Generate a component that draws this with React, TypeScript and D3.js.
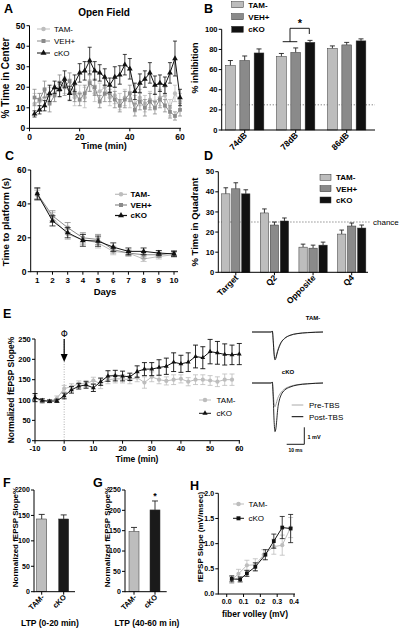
import React from "react";
import * as d3 from "d3";

const FONT = "'Liberation Sans', Arial, Helvetica, sans-serif";
const C_TAM = "#bdbdbd";
const C_VEH = "#8a8a8a";
const C_CKO = "#111111";

// ---------- Panel A: Open field ----------
const aTime = [2, 4, 6, 8, 10, 12, 14, 16, 18, 20, 22, 24, 26, 28, 30, 32, 34, 36, 38, 40, 42, 44, 46, 48, 50, 52, 54, 56, 58, 60];
const aTam = [12, 13, 15, 16, 17, 19, 21, 19, 15, 17, 15, 23, 17, 18, 20, 15, 16, 13, 15, 14, 12, 15, 12, 14, 13, 15, 16, 10, 17, 13];
const aTamErr = [5, 4, 4, 4, 4, 4, 4, 5, 4, 4, 5, 5, 4, 4, 4, 4, 4, 4, 4, 4, 4, 4, 4, 4, 4, 4, 4, 4, 4, 4];
const aVeh = [15, 14, 19, 12, 16, 22, 20, 23, 17, 14, 17, 22, 20, 13, 17, 17, 14, 11, 14, 17, 9, 13, 10, 13, 10, 14, 11, 8, 6, 9];
const aVehErr = [4, 3, 4, 4, 3, 4, 4, 4, 4, 3, 4, 4, 4, 3, 4, 4, 4, 3, 4, 4, 3, 4, 4, 4, 3, 4, 3, 3, 2, 3];
const aCko = [7, 9, 11, 17, 20, 19, 24, 17, 22, 27, 28, 33, 28, 27, 25, 21, 25, 26, 31, 29, 18, 22, 24, 27, 21, 22, 21, 27, 34, 15];
const aCkoErr = [1.5, 2, 2.5, 4, 3, 3.5, 4, 3.5, 4, 4.5, 4.5, 6.5, 4.5, 4, 4, 3.5, 5, 4.5, 5, 5, 4, 4.5, 4, 5, 4.5, 4, 4, 5, 8.5, 4];
const aYTicks = [0, 10, 20, 30, 40, 50];
const aXTicks = [0, 20, 40, 60];

// ---------- Panel B: prepulse inhibition ----------
const bGroups = ["74dB", "78dB", "86dB"];
const bTam = [64, 73, 81];
const bTamErr = [5, 3, 2.5];
const bVeh = [69, 77, 84.5];
const bVehErr = [4.5, 4.5, 2.5];
const bCko = [76.5, 87, 88.5];
const bCkoErr = [4, 2, 2];
const bYTicks = [0, 20, 40, 60, 80, 100];

// ---------- Panel C: water maze acquisition ----------
const cDays = [1, 2, 3, 4, 5, 6, 7, 8, 9, 10];
const cTam = [45, 32, 22, 19, 17, 12, 11, 7.5, 9, 10];
const cTamErr = [3, 3, 3, 3, 3, 2, 2, 1.5, 1.5, 1.5];
const cVeh = [46, 33, 26, 20, 19, 13, 11, 10, 10, 11];
const cVehErr = [3, 3, 3, 3, 3, 2, 1.5, 2, 1.5, 1.5];
const cCko = [46, 30, 23, 18.5, 18, 14.5, 12, 12, 11, 10.5];
const cCkoErr = [3.5, 3, 3, 3.5, 3, 2.5, 2, 2, 1.5, 1.5];
const cYTicks = [0, 20, 40, 60];

// ---------- Panel D: probe trial ----------
const dGroups = ["Target", "Q2", "Opposite", "Q4"];
const dTam = [39, 29.5, 12.5, 19];
const dTamErr = [3, 2, 1.5, 2];
const dVeh = [41.5, 23.5, 12, 23];
const dVehErr = [3, 1.5, 1.5, 1.5];
const dCko = [39, 25.5, 13.5, 22];
const dCkoErr = [2, 1.5, 1.5, 1.5];
const dYTicks = [0, 10, 20, 30, 40, 50];

// ---------- Panel E: LTP time course ----------
const eTimeCko = [-10, -7.5, -5, -2.5, 0, 2.5, 5, 7.5, 10, 12.5, 15, 17.5, 20, 22.5, 25, 27.5, 30, 32.5, 35, 37.5, 40, 42.5, 45, 47.5, 50, 52.5, 55, 57.5, 60];
const eCko = [106, 99, 97, 98, 110, 125, 134, 137, 130, 145, 159, 160, 159, 157, 170, 176, 176, 180, 183, 193, 189, 193, 207, 204, 219, 216, 212, 211, 213];
const eCkoErr = [10, 4, 3, 4, 7, 8, 7, 8, 9, 9, 13, 13, 12, 9, 14, 16, 16, 19, 20, 23, 21, 23, 28, 27, 30, 28, 26, 24, 26];
const eTimeTam = [-10, -7.5, -5, -2.5, 0, 2.5, 5, 7.5, 10, 12.5, 15, 17.5, 20, 22.5, 25, 27.5, 30, 32.5, 35, 37.5, 40, 42.5, 45, 47.5, 50, 52.5, 55, 57.5];
const eTam = [104, 96, 97, 104, 128, 133, 140, 140, 148, 140, 150, 152, 152, 150, 155, 143, 157, 150, 147, 150, 152, 145, 150, 150, 148, 145, 150, 150];
const eTamErr = [8, 4, 4, 6, 8, 7, 7, 8, 8, 12, 10, 10, 10, 10, 10, 14, 12, 10, 10, 12, 10, 10, 12, 12, 12, 12, 14, 14];
const eXTicks = [-10, 0, 10, 20, 30, 40, 50, 60];
const eYTicks = [0, 50, 100, 150, 200, 250];

// example fEPSP traces (ms, mV)
const trT = [-11.5, -0.5, 0, 0.5, 1, 1.5, 2, 2.5, 3, 4, 5, 7, 10, 14, 20, 28.7];
const trTamPost = [0, 0, 0.06, -0.5, -1.3, -1.64, -1.55, -1.35, -1.15, -0.85, -0.62, -0.38, -0.2, -0.1, -0.04, 0];
const trTamPre = [0, 0, 0.06, -0.45, -1.2, -1.55, -1.5, -1.3, -1.1, -0.8, -0.6, -0.36, -0.19, -0.09, -0.03, 0];
const trCkoPost = [0, 0, 0.06, -0.8, -2.2, -2.86, -2.7, -2.2, -1.6, -1.0, -0.7, -0.42, -0.24, -0.12, -0.05, 0];
const trCkoPre = [0, 0, 0.06, -0.6, -1.2, -1.4, -1.28, -1.1, -0.92, -0.7, -0.55, -0.35, -0.2, -0.1, -0.04, 0];

// ---------- Panel F / G: LTP bars ----------
const fgGroups = ["TAM-", "cKO"];
const fVals = [143, 143];
const fErr = [9, 8];
const gVals = [148, 201];
const gErr = [10, 22];
const fYTicks = [0, 50, 100, 150, 200];
const gYTicks = [0, 50, 100, 150, 200, 250];

// ---------- Panel H: input-output ----------
const hTamX = [0.03, 0.07, 0.12, 0.17, 0.22, 0.28, 0.33, 0.38];
const hTamY = [0.28, 0.4, 0.57, 0.58, 0.78, 0.94, 0.97, 1.32];
const hTamErr = [0.07, 0.09, 0.1, 0.12, 0.1, 0.15, 0.2, 0.2];
const hCkoX = [0.03, 0.08, 0.12, 0.17, 0.23, 0.28, 0.33, 0.38];
const hCkoY = [0.3, 0.29, 0.41, 0.54, 0.78, 1.05, 1.32, 1.3];
const hCkoErr = [0.06, 0.05, 0.06, 0.08, 0.1, 0.14, 0.22, 0.28];
const hXTicks = [0, 0.1, 0.2, 0.3, 0.4];
const hYTicks = [0, 0.5, 1, 1.5, 2];

type Sc = d3.ScaleLinear<number, number>;

function YAxis({ scale, x, ticks, fmt, fs = 8, tl = 3 }: any) {
  const [y0, y1] = scale.range();
  return (
    <g>
      <line x1={x} x2={x} y1={y0 + 0.5} y2={y1} stroke="#000" strokeWidth={1} />
      {ticks.map((t: number) => (
        <g key={t}>
          <line x1={x - tl} x2={x} y1={scale(t)} y2={scale(t)} stroke="#000" strokeWidth={1} />
          <text x={x - tl - 1.2} y={scale(t)} dy="0.35em" textAnchor="end" fontSize={fs} fontWeight="bold">
            {fmt ? fmt(t) : t}
          </text>
        </g>
      ))}
    </g>
  );
}

function XAxis({ scale, y, ticks, from, to, fmt, fs = 8, tl = 3, labels = true }: any) {
  return (
    <g>
      <line x1={from} x2={to} y1={y} y2={y} stroke="#000" strokeWidth={1} />
      {ticks.map((t: any) => (
        <g key={t}>
          <line x1={scale(t)} x2={scale(t)} y1={y} y2={y + tl} stroke="#000" strokeWidth={1} />
          {labels && (
            <text x={scale(t)} y={y + tl + fs} textAnchor="middle" fontSize={fs} fontWeight="bold">
              {fmt ? fmt(t) : t}
            </text>
          )}
        </g>
      ))}
    </g>
  );
}

function Series({ xs, ys, errs, xS, yS, color, marker, size = 14, cap = 2, lw = 1, errColor, ew = 0.8 }: any) {
  const line = d3
    .line<number>()
    .x((_, i) => xS(xs[i]))
    .y((d) => yS(d));
  const sym = d3.symbol().type(marker).size(size)() as string;
  return (
    <g>
      {errs &&
        ys.map((v: number, i: number) => {
          const cx = xS(xs[i]);
          const t = yS(v + errs[i]);
          const b = yS(v - errs[i]);
          return (
            <g key={"e" + i} stroke={errColor ?? color} strokeWidth={ew}>
              <line x1={cx} x2={cx} y1={t} y2={b} />
              <line x1={cx - cap} x2={cx + cap} y1={t} y2={t} />
              <line x1={cx - cap} x2={cx + cap} y1={b} y2={b} />
            </g>
          );
        })}
      <path d={line(ys) as string} fill="none" stroke={color} strokeWidth={lw} />
      {ys.map((v: number, i: number) => (
        <path key={"m" + i} d={sym} transform={`translate(${xS(xs[i])},${yS(v)})`} fill={color} />
      ))}
    </g>
  );
}

function Bars({ groups, seriesVals, seriesErrs, colors, x0, offsets, width, yS, cap = 2.5 }: any) {
  return (
    <g>
      {seriesVals.map((vals: number[], s: number) =>
        vals.map((v: number, i: number) => {
          const cx = x0(groups[i]) + offsets[s];
          const top = yS(v);
          const et = yS(v + seriesErrs[s][i]);
          return (
            <g key={s + "-" + i}>
              <line x1={cx} x2={cx} y1={top} y2={et} stroke="#222" strokeWidth={0.9} />
              <line x1={cx - cap} x2={cx + cap} y1={et} y2={et} stroke="#222" strokeWidth={0.9} />
              <rect
                x={cx - width / 2}
                y={top}
                width={width}
                height={yS(0) - top}
                fill={colors[s]}
                stroke="#333"
                strokeWidth={0.5}
              />
            </g>
          );
        })
      )}
    </g>
  );
}

function RotLabels({ groups, x0, y, fs = 8, dx = 3 }: any) {
  return (
    <g>
      {groups.map((g: string) => (
        <text
          key={g}
          transform={`translate(${x0(g) + dx},${y}) rotate(-45)`}
          textAnchor="end"
          fontSize={fs}
          fontWeight="bold"
        >
          {g}
        </text>
      ))}
    </g>
  );
}

function YLabel({ x, y, text, fs = 9 }: any) {
  return (
    <text transform={`translate(${x},${y}) rotate(-90)`} textAnchor="middle" fontSize={fs} fontWeight="bold">
      {text}
    </text>
  );
}

function PanelLetter({ x, y, t }: any) {
  return (
    <text x={x} y={y} fontSize={12.5} fontWeight="bold">
      {t}
    </text>
  );
}

function PanelA() {
  const x: Sc = d3.scaleLinear([0, 60], [29.5, 180]);
  const y: Sc = d3.scaleLinear([0, 50], [128.3, 25.7]);
  const leg = [
    { t: "TAM-", c: C_TAM, m: d3.symbolCircle, yy: 29 },
    { t: "VEH+", c: C_VEH, m: d3.symbolSquare, yy: 41 },
    { t: "cKO", c: C_CKO, m: d3.symbolTriangle, yy: 53 },
  ];
  return (
    <g>
      <PanelLetter x={4} y={13} t="A" />
      <text x={104} y={16} textAnchor="middle" fontSize={10} fontWeight="bold">
        Open Field
      </text>
      <Series xs={aTime} ys={aTam} errs={aTamErr} xS={x} yS={y} color={C_TAM} marker={d3.symbolCircle} size={14} />
      <Series xs={aTime} ys={aVeh} errs={aVehErr} xS={x} yS={y} color={C_VEH} marker={d3.symbolSquare} size={14} />
      <Series xs={aTime} ys={aCko} errs={aCkoErr} xS={x} yS={y} color={C_CKO} marker={d3.symbolTriangle} size={14} />
      <YAxis scale={y} x={29.5} ticks={aYTicks} fs={8.5} />
      <XAxis scale={x} y={128.3} ticks={aXTicks} from={29.5} to={181} fs={8.5} />
      <text x={104} y={149} textAnchor="middle" fontSize={9} fontWeight="bold">
        Time (min)
      </text>
      <YLabel x={9} y={78} text="% Time in Center" fs={10} />
      {leg.map((l) => (
        <g key={l.t}>
          <line x1={37} x2={50} y1={l.yy} y2={l.yy} stroke={l.c} strokeWidth={1} />
          <path d={d3.symbol().type(l.m).size(16)() as string} transform={`translate(43.5,${l.yy})`} fill={l.c} />
          <text x={54} y={l.yy} dy="0.35em" fontSize={8}>
            {l.t}
          </text>
        </g>
      ))}
    </g>
  );
}

function PanelB() {
  const y: Sc = d3.scaleLinear([0, 100], [130, 29.3]);
  const x0 = d3.scalePoint(bGroups, [244.7, 346.7]);
  const off = [-14.3, 0, 14.3];
  const leg = [
    { t: "TAM-", c: C_TAM, yy: 4.7 },
    { t: "VEH+", c: C_VEH, yy: 16.7 },
    { t: "cKO", c: C_CKO, yy: 29.3 },
  ];
  return (
    <g>
      <PanelLetter x={204} y={13.3} t="B" />
      <line x1={221.7} x2={375} y1={y(25)} y2={y(25)} stroke="#555" strokeWidth={0.8} strokeDasharray="1.2,1.8" />
      <Bars
        groups={bGroups}
        seriesVals={[bTam, bVeh, bCko]}
        seriesErrs={[bTamErr, bVehErr, bCkoErr]}
        colors={[C_TAM, C_VEH, C_CKO]}
        x0={x0}
        offsets={off}
        width={9.7}
        yS={y}
      />
      <YAxis scale={y} x={221.7} ticks={bYTicks} fs={7.5} />
      <XAxis scale={(g: string) => x0(g) as number} y={130} ticks={bGroups} from={221.7} to={375} labels={false} />
      <RotLabels groups={bGroups} x0={x0} y={136} fs={8.5} dx={3} />
      <YLabel x={198} y={68} text="% inhibition" fs={9} />
      <g stroke="#000" strokeWidth={0.9} fill="none">
        <line x1={282.7} x2={297.3} y1={41.7} y2={41.7} />
        <polyline points={`290,41.7 290,28.3 309.3,28.3 309.3,34`} />
      </g>
      <text x={300} y={27} textAnchor="middle" fontSize={11} fontWeight="bold">
        *
      </text>
      {leg.map((l) => (
        <g key={l.t}>
          <rect x={231.7} y={l.yy - 3} width={11.6} height={6} fill={l.c} stroke="#333" strokeWidth={0.5} />
          <text x={248.3} y={l.yy} dy="0.35em" fontSize={8} fontWeight="bold">
            {l.t}
          </text>
        </g>
      ))}
    </g>
  );
}

function PanelC() {
  const x: Sc = d3.scaleLinear([1, 10], [37.3, 174]);
  const y: Sc = d3.scaleLinear([0, 60], [271.7, 170]);
  const leg = [
    { t: "TAM-", c: C_TAM, m: d3.symbolCircle, yy: 194.3 },
    { t: "VEH+", c: C_VEH, m: d3.symbolSquare, yy: 205 },
    { t: "cKO", c: C_CKO, m: d3.symbolTriangle, yy: 215.5 },
  ];
  return (
    <g>
      <PanelLetter x={5} y={160} t="C" />
      <Series xs={cDays} ys={cTam} errs={cTamErr} xS={x} yS={y} color={C_TAM} marker={d3.symbolCircle} size={14} cap={3} />
      <Series xs={cDays} ys={cVeh} errs={cVehErr} xS={x} yS={y} color={C_VEH} marker={d3.symbolSquare} size={14} cap={3} />
      <Series xs={cDays} ys={cCko} errs={cCkoErr} xS={x} yS={y} color={C_CKO} marker={d3.symbolTriangle} size={14} cap={3} />
      <YAxis scale={y} x={30.7} ticks={cYTicks} fs={8.5} />
      <XAxis scale={x} y={271.7} ticks={cDays} from={30.7} to={178} fs={8} />
      <text x={105} y={295} textAnchor="middle" fontSize={9.5} fontWeight="bold">
        Days
      </text>
      <YLabel x={9} y={222} text="Time to platform (s)" fs={9.5} />
      {leg.map((l) => (
        <g key={l.t}>
          <line x1={115} x2={127} y1={l.yy} y2={l.yy} stroke={l.c} strokeWidth={1.2} />
          <path d={d3.symbol().type(l.m).size(16)() as string} transform={`translate(121,${l.yy})`} fill={l.c} />
          <text x={130.5} y={l.yy} dy="0.35em" fontSize={8} fontWeight="bold">
            {l.t}
          </text>
        </g>
      ))}
    </g>
  );
}

function PanelD() {
  const y: Sc = d3.scaleLinear([0, 50], [272.3, 171.7]);
  const x0 = d3.scalePoint(dGroups, [235.8, 351.7]);
  const off = [-10, 0, 10];
  const leg = [
    { t: "TAM-", c: C_TAM, yy: 177.3 },
    { t: "VEH+", c: C_VEH, yy: 188.7 },
    { t: "cKO", c: C_CKO, yy: 200 },
  ];
  return (
    <g>
      <PanelLetter x={204} y={160} t="D" />
      <line x1={218.3} x2={370} y1={y(25)} y2={y(25)} stroke="#555" strokeWidth={0.8} strokeDasharray="1.2,1.8" />
      <text x={373} y={y(25)} dy="0.35em" fontSize={8}>
        chance
      </text>
      <Bars
        groups={dGroups}
        seriesVals={[dTam, dVeh, dCko]}
        seriesErrs={[dTamErr, dVehErr, dCkoErr]}
        colors={[C_TAM, C_VEH, C_CKO]}
        x0={x0}
        offsets={off}
        width={8.3}
        yS={y}
        cap={2.3}
      />
      <YAxis scale={y} x={218.3} ticks={dYTicks} fs={7.5} />
      <XAxis scale={(g: string) => x0(g) as number} y={272.3} ticks={dGroups} from={218.3} to={368} labels={false} />
      <RotLabels groups={dGroups} x0={x0} y={278.5} fs={8.5} dx={3} />
      <YLabel x={198} y={222} text="% Time in Quadrant" fs={9.5} />
      {leg.map((l) => (
        <g key={l.t}>
          <rect x={320} y={l.yy - 3} width={11} height={6} fill={l.c} stroke="#333" strokeWidth={0.5} />
          <text x={336} y={l.yy} dy="0.35em" fontSize={8} fontWeight="bold">
            {l.t}
          </text>
        </g>
      ))}
    </g>
  );
}

function Trace({ vals, base, color, w = 1 }: any) {
  const tx: Sc = d3.scaleLinear([-11.5, 28.7], [252, 323]);
  const ty: Sc = d3.scaleLinear([0, -1], [base, base + 17]);
  const line = d3
    .line<number>()
    .x((_, i) => tx(trT[i]))
    .y((d) => ty(d))
    .curve(d3.curveMonotoneX);
  return <path d={line(vals) as string} fill="none" stroke={color} strokeWidth={w} />;
}

function PanelE() {
  const x: Sc = d3.scaleLinear([-10, 60], [35, 239.3]);
  const y: Sc = d3.scaleLinear([0, 250], [440.7, 339]);
  return (
    <g>
      <PanelLetter x={3} y={318} t="E" />
      <line x1={x(0)} x2={x(0)} y1={339} y2={440.7} stroke="#999" strokeWidth={0.8} strokeDasharray="1,1.5" />
      <Series xs={eTimeTam} ys={eTam} errs={eTamErr} xS={x} yS={y} color={C_TAM} marker={d3.symbolCircle} size={14} cap={2.5} />
      <Series xs={eTimeCko} ys={eCko} errs={eCkoErr} xS={x} yS={y} color={C_CKO} marker={d3.symbolTriangle} size={10} cap={2.5} ew={0.9} />
      <YAxis scale={y} x={35} ticks={eYTicks} fs={7.5} />
      <XAxis scale={x} y={440.7} ticks={eXTicks} from={35} to={240} fs={7.5} />
      <text x={137} y={462} textAnchor="middle" fontSize={8.5} fontWeight="bold">
        Time (min)
      </text>
      <YLabel x={14} y={390} text="Normalized fEPSP Slope%" fs={8.5} />
      <text x={x(0)} y={337} textAnchor="middle" fontSize={9} fill="#000" fontFamily="'DejaVu Sans', sans-serif">
        Φ
      </text>
      <line x1={x(0)} x2={x(0)} y1={339} y2={355} stroke="#000" strokeWidth={1.2} />
      <path d={`M${x(0) - 3.5},354 L${x(0) + 3.5},354 L${x(0)},362 Z`} fill="#000" />
      <g>
        <line x1={199} x2={211} y1={400} y2={400} stroke={C_TAM} strokeWidth={1} />
        <path d={d3.symbol().type(d3.symbolCircle).size(16)() as string} transform="translate(205,400)" fill={C_TAM} />
        <text x={216.5} y={400} dy="0.35em" fontSize={8}>
          TAM-
        </text>
        <line x1={199} x2={211} y1={413.3} y2={413.3} stroke={C_CKO} strokeWidth={1} />
        <path d={d3.symbol().type(d3.symbolTriangle).size(12)() as string} transform="translate(205,413.3)" fill={C_CKO} />
        <text x={216.5} y={413.3} dy="0.35em" fontSize={8}>
          cKO
        </text>
      </g>
      <text x={313} y={320} textAnchor="middle" fontSize={6} fontWeight="bold">
        TAM-
      </text>
      <Trace vals={trTamPre} base={332} color="#9a9a9a" w={1} />
      <Trace vals={trTamPost} base={332} color="#111" w={0.9} />
      <text x={288} y={374} textAnchor="middle" fontSize={6} fontWeight="bold">
        cKO
      </text>
      <Trace vals={trCkoPre} base={383} color="#9a9a9a" w={1} />
      <Trace vals={trCkoPost} base={383} color="#111" w={0.9} />
      <line x1={291.7} x2={303.3} y1={405} y2={405} stroke="#aaa" strokeWidth={1} />
      <text x={309} y={405} dy="0.35em" fontSize={8}>
        Pre-TBS
      </text>
      <line x1={291.7} x2={303.3} y1={416.7} y2={416.7} stroke="#000" strokeWidth={1} />
      <text x={309} y={416.7} dy="0.35em" fontSize={8}>
        Post-TBS
      </text>
      <polyline points="304.3,427.3 304.3,444.3 286.7,444.3" fill="none" stroke="#000" strokeWidth={0.9} />
      <text x={307.5} y={438.5} fontSize={5.5} fontWeight="bold">
        1 mV
      </text>
      <text x={295.5} y={452} textAnchor="middle" fontSize={5} fontWeight="bold">
        10 ms
      </text>
    </g>
  );
}

function SmallBars(props: any) {
  const { vals, errs, centers, yS } = props;
  const groups = fgGroups;
  const x0 = (g: string) => centers[groups.indexOf(g)];
  return (
    <g>
      <PanelLetter x={props.lx} y={props.ly} t={props.letter} />
      {groups.map((g, i) => {
        const cx = x0(g);
        const top = yS(vals[i]);
        const et = yS(vals[i] + errs[i]);
        return (
          <g key={g}>
            <line x1={cx} x2={cx} y1={top} y2={et} stroke="#222" strokeWidth={0.9} />
            <line x1={cx - 3} x2={cx + 3} y1={et} y2={et} stroke="#222" strokeWidth={0.9} />
            <rect x={cx - 5} y={top} width={10} height={yS(0) - top} fill={i === 0 ? C_TAM : "#1a1a1a"} stroke="#333" strokeWidth={0.5} />
          </g>
        );
      })}
      <YAxis scale={yS} x={props.axisX} ticks={props.ticks} fs={7} />
      <XAxis scale={x0} y={yS(0)} ticks={groups} from={props.axisX} to={props.axisEnd} labels={false} />
      {groups.map((g) => (
        <text key={g} transform={`translate(${x0(g) + 3},${yS(0) + 6}) rotate(-45)`} textAnchor="end" fontSize={7.5} fontWeight="bold">
          {g}
        </text>
      ))}
      <text x={props.tx} y={626} textAnchor="middle" fontSize={8.5} fontWeight="bold">
        {props.title}
      </text>
      <YLabel x={props.ylx} y={537} text="Normalized fEPSP Slope%" fs={8} />
      {props.star && (
        <text x={centers[1]} y={yS(vals[1] + errs[1]) - 1.5} textAnchor="middle" fontSize={9} fontWeight="bold">
          *
        </text>
      )}
    </g>
  );
}

function PanelsFG() {
  const yF: Sc = d3.scaleLinear([0, 200], [591.7, 490]);
  const yG: Sc = d3.scaleLinear([0, 250], [591.7, 490]);
  return (
    <g>
      <SmallBars
        vals={fVals}
        errs={fErr}
        axisX={34}
        centers={[41.7, 63.7]}
        axisEnd={75}
        yS={yF}
        ticks={fYTicks}
        letter="F"
        lx={3}
        ly={487}
        title="LTP (0-20 min)"
        tx={50}
        ylx={18}
      />
      <SmallBars
        vals={gVals}
        errs={gErr}
        axisX={125}
        centers={[134, 155]}
        axisEnd={166.7}
        yS={yG}
        ticks={gYTicks}
        letter="G"
        lx={93}
        ly={487}
        title="LTP (40-60 m in)"
        tx={147}
        ylx={109.5}
        star
      />
    </g>
  );
}

function PanelH() {
  const x: Sc = d3.scaleLinear([-0.05, 0.4], [218.3, 294]);
  const y: Sc = d3.scaleLinear([0, 2], [594, 493.3]);
  const f1 = d3.format(".1f");
  return (
    <g>
      <PanelLetter x={190} y={490} t="H" />
      <Series xs={hTamX} ys={hTamY} errs={hTamErr} xS={x} yS={y} color={C_TAM} marker={d3.symbolCircle} size={14} cap={2.5} />
      <Series xs={hCkoX} ys={hCkoY} errs={hCkoErr} xS={x} yS={y} color={C_CKO} marker={d3.symbolSquare} size={14} cap={2.5} />
      <YAxis scale={y} x={218.3} ticks={hYTicks} fmt={f1} fs={7} />
      <XAxis scale={x} y={594} ticks={hXTicks} from={218.3} to={295} fmt={f1} fs={7} />
      <text x={255} y={617} textAnchor="middle" fontSize={8.5} fontWeight="bold">
        fiber volley (mV)
      </text>
      <YLabel x={203} y={537} text="fEPSP Slope (mV/msec)" fs={8} />
      <line x1={233} x2={244} y1={504} y2={504} stroke={C_TAM} strokeWidth={1} />
      <path d={d3.symbol().type(d3.symbolCircle).size(16)() as string} transform="translate(238.5,504)" fill={C_TAM} />
      <text x={248.5} y={504} dy="0.35em" fontSize={8}>
        TAM-
      </text>
      <line x1={233} x2={244} y1={518.3} y2={518.3} stroke={C_CKO} strokeWidth={1} />
      <path d={d3.symbol().type(d3.symbolSquare).size(16)() as string} transform="translate(238.5,518.3)" fill={C_CKO} />
      <text x={248.5} y={518.3} dy="0.35em" fontSize={8}>
        cKO
      </text>
    </g>
  );
}

export default function App() {
  return (
    <svg
      width={400}
      height={630}
      viewBox="0 0 400 630"
      style={{ position: "absolute", left: 0, top: 0, background: "#fff", fontFamily: FONT }}
      fontFamily={FONT}
    >
      <rect x={0} y={0} width={400} height={630} fill="#fff" />
      <PanelA />
      <PanelB />
      <PanelC />
      <PanelD />
      <PanelE />
      <PanelsFG />
      <PanelH />
    </svg>
  );
}
